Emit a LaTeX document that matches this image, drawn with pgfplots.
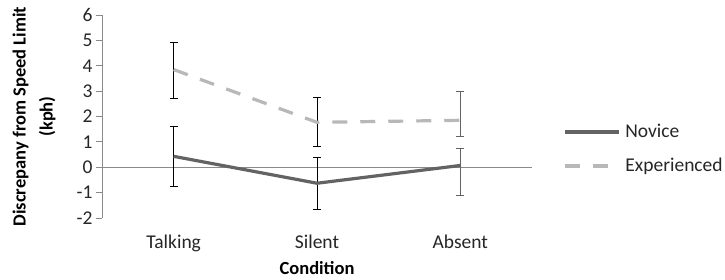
\documentclass[border=0pt]{standalone}
\usepackage{pgfplots}
\usepackage{pgfplotstable}
\usepackage{fontspec}
\setmainfont{Carlito}
\pgfplotsset{compat=1.18}
\definecolor{novc}{HTML}{636363}
\definecolor{expc}{HTML}{B8B8B8}
\definecolor{axc}{HTML}{8A8A8A}
\definecolor{txt}{HTML}{262626}
\pgfplotstableread{
x y ep em
0.5 0.43 1.16 1.17
1.5 -0.63 1.01 1.04
2.5 0.07 0.65 1.17
}\novice
\pgfplotstableread{
x y ep em
0.5 3.85 1.08 1.13
1.5 1.77 0.98 0.95
2.5 1.85 1.13 0.62
}\experienced
\begin{document}
\begin{tikzpicture}
\useasboundingbox (0,0) rectangle (725pt,280pt);
\begin{axis}[
  at={(102pt,62pt)}, anchor=south west,
  scale only axis, width=430pt, height=203pt,
  xmin=0, xmax=3, ymin=-2, ymax=6,
  axis y line*=left, axis x line*=bottom,
  x axis line style={draw=none},
  y axis line style={draw=axc, line width=0.8pt},
  xtick={0.5,1.5,2.5}, xticklabels={Talking,Silent,Absent},
  xtick style={draw=none},
  ytick={-2,-1,0,1,2,3,4,5,6},
  ytick style={draw=axc, line width=0.8pt},
  tick align=outside, major tick length=6pt,
  extra y ticks={0}, extra y tick labels={},
  extra y tick style={grid=major, grid style={draw=axc, line width=0.8pt}},
  /pgf/number format/assume math mode=true,
  tick label style={font=\fontsize{19.5}{22}\selectfont, text=txt},
  xticklabel style={yshift=-7pt},
  ylabel={Discrepany from Speed Limit\\(kph)},
  ylabel style={at={(axis description cs:-0.158,0.5)}, anchor=center, align=center, font=\bfseries\fontsize{18.5}{27}\selectfont, text=black},
  xlabel={Condition},
  xlabel style={at={(axis description cs:0.5,-0.246)}, anchor=center, font=\bfseries\fontsize{18.5}{22}\selectfont, text=black},
  legend style={at={(axis description cs:1.072,0.34)}, anchor=west, draw=none, fill=none,
    font=\fontsize{19.5}{22}\selectfont, text=txt, row sep=15pt, inner sep=0pt,
    /tikz/every odd column/.append style={column sep=3pt}},
  legend cell align=left,
  legend image code/.code={\draw[#1] (0pt,0pt) -- (54pt,0pt);},
  clip=false,
]
\addplot[draw=none, forget plot, mark=none,
  error bars/.cd, y dir=both, y explicit,
  error bar style={black, line width=1pt},
  error mark options={rotate=90, mark size=4pt, black, line width=1pt}]
  table[x=x, y=y, y error plus=ep, y error minus=em] {
x y ep em
0.5 0.43 1.16 1.17
1.5 -0.63 1.01 1.04
0.5 3.85 1.08 1.13
1.5 1.77 0.98 0.95
};
\addplot[draw=none, forget plot, mark=none,
  error bars/.cd, y dir=both, y explicit,
  error bar style={novc, line width=1pt},
  error mark options={rotate=90, mark size=4pt, novc, line width=1pt}]
  table[x=x, y=y, y error plus=ep, y error minus=em] {
x y ep em
2.5 0.07 0.65 1.17
2.5 1.85 1.13 0.62
};
\addplot[novc, line width=3.2pt, mark=none] table[x=x, y=y] {\novice};
\addlegendentry{Novice}
\addplot[expc, line width=3.2pt, mark=none, dash pattern=on 15pt off 13pt] table[x=x, y=y] {\experienced};
\addlegendentry{Experienced}
\end{axis}
\end{tikzpicture}
\end{document}
